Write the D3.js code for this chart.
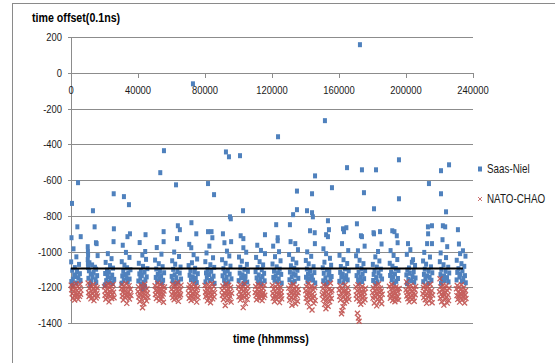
<!DOCTYPE html>
<html>
<head>
<meta charset="utf-8">
<script src="https://cdn.jsdelivr.net/npm/d3@7"></script>
<style>
  body { margin: 0; background: #fff; }
  svg { display: block; }
  text { font-family: "Liberation Sans", Arial, sans-serif; }
</style>
</head>
<body>
<svg id="chart" width="555" height="363"></svg>
<script>
// y ticks and x ticks
const yTicks = [200, 0, -200, -400, -600, -800, -1000, -1200, -1400];
const xTicks = [0, 40000, 80000, 120000, 160000, 200000, 240000];

// Saas-Niel, one list per hour: [mmss, offset]
const saasNiel = [
  [[600,-731],[4200,-615],[3800,-862],[300,-923],[5800,-917],[1500,-985],[3200,-1030],[100,-1058],[4800,-1072],[2300,-1090],[700,-1105],[3600,-1112],[5300,-1124],[1900,-1131],[2800,-1140],[4400,-1148],[1100,-1155],[5700,-1162],[200,-1168],[3300,-1176],[900,-1184]],
  [[3100,-772],[4100,-862],[4900,-951],[5300,-956],[5900,-1023],[0,-973],[100,-1000],[200,-1020],[0,-1045],[100,-1068],[200,-1090],[1000,-1063],[2600,-1075],[4300,-1088],[5000,-1099],[700,-1108],[3500,-1117],[1800,-1126],[5600,-1135],[2900,-1143],[400,-1150],[4700,-1158],[2100,-1166],[5100,-1174],[1400,-1183]],
  [[5500,-677],[5600,-873],[5400,-945],[2000,-1012],[4200,-1040],[700,-1061],[3300,-1079],[5100,-1093],[1500,-1104],[2600,-1115],[400,-1123],[4600,-1132],[1900,-1140],[3700,-1149],[5800,-1156],[1000,-1163],[2900,-1171],[4900,-1179],[200,-1187]],
  [[1600,-693],[4600,-738],[5200,-901],[3700,-917],[900,-965],[2800,-1005],[4900,-1033],[300,-1057],[1900,-1076],[3500,-1091],[5500,-1102],[1200,-1111],[4200,-1120],[2400,-1129],[600,-1137],[3100,-1146],[5000,-1154],[1500,-1161],[3900,-1169],[200,-1177]],
  [[4500,-906],[4300,-1000],[1000,-950],[2600,-1020],[4800,-1044],[500,-1066],[3000,-1083],[5600,-1096],[1700,-1107],[3900,-1116],[800,-1125],[2300,-1134],[5200,-1142],[1400,-1150],[4400,-1158],[200,-1165],[3300,-1173],[2000,-1181],[4200,-1195],[2800,-1210]],
  [[3300,-559],[5500,-436],[5300,-889],[5300,-945],[1200,-978],[4000,-1015],[200,-1048],[2400,-1068],[4700,-1085],[900,-1098],[3100,-1110],[5600,-1119],[1800,-1128],[3800,-1136],[600,-1145],[2700,-1153],[5000,-1161],[1500,-1168],[4300,-1176]],
  [[2700,-627],[3800,-856],[5000,-878],[3300,-928],[1600,-1003],[4500,-1028],[400,-1052],[2200,-1071],[5400,-1087],[1000,-1100],[3500,-1112],[4900,-1121],[1900,-1130],[100,-1139],[2900,-1147],[5700,-1154],[700,-1162],[4100,-1170],[2400,-1178]],
  [[2800,-62],[1900,-839],[4800,-901],[1800,-979],[600,-960],[3200,-1018],[5300,-1042],[2200,-1063],[200,-1079],[4100,-1094],[1300,-1106],[3600,-1115],[5700,-1124],[800,-1133],[2700,-1142],[4500,-1150],[1600,-1158],[3900,-1166],[5100,-1174]],
  [[1800,-620],[5400,-682],[1800,-889],[3900,-889],[4400,-923],[2600,-970],[900,-1008],[4800,-1035],[200,-1057],[3200,-1074],[5500,-1089],[1500,-1101],[3700,-1111],[600,-1120],[2400,-1129],[5100,-1138],[1100,-1146],[4200,-1154],[2900,-1162],[300,-1170],[5700,-1178]],
  [[2500,-443],[4300,-470],[4900,-806],[5400,-817],[700,-901],[1600,-951],[5600,-945],[3100,-998],[4500,-1025],[200,-1046],[2300,-1066],[5200,-1082],[1000,-1096],[3600,-1108],[1800,-1118],[4700,-1127],[500,-1136],[2900,-1145],[5800,-1153],[1400,-1161],[3900,-1170],[2100,-1180]],
  [[900,-464],[2700,-772],[1300,-912],[2900,-928],[2900,-979],[4600,-1004],[300,-1031],[2000,-1054],[5000,-1072],[1100,-1088],[3500,-1100],[5600,-1111],[700,-1121],[2400,-1130],[4200,-1139],[1600,-1147],[3800,-1155],[100,-1163],[5200,-1171],[3000,-1179]],
  [[5800,-906],[5800,-1012],[1200,-965],[3400,-994],[500,-1033],[2600,-1057],[4700,-1075],[1400,-1090],[3900,-1102],[200,-1113],[5300,-1122],[2100,-1131],[4300,-1140],[800,-1148],[3000,-1156],[5600,-1164],[1700,-1172],[3600,-1180]],
  [[3600,-358],[2500,-850],[3400,-923],[3400,-940],[700,-970],[4200,-1001],[1800,-1029],[5100,-1052],[300,-1070],[2800,-1086],[4600,-1099],[1200,-1110],[3600,-1119],[5500,-1128],[2200,-1137],[800,-1145],[4000,-1153],[1500,-1161],[3100,-1169],[5800,-1177]],
  [[4900,-662],[4900,-766],[700,-850],[2600,-794],[1100,-945],[3900,-956],[5500,-990],[200,-1017],[2400,-1043],[4500,-1064],[1300,-1080],[3300,-1094],[5200,-1105],[700,-1115],[2900,-1124],[4100,-1133],[1800,-1142],[5700,-1150],[400,-1158],[3600,-1166],[2100,-1174]],
  [[5700,-577],[3900,-677],[900,-772],[3900,-783],[4400,-806],[2700,-884],[5500,-895],[5600,-956],[1000,-1002],[3400,-1027],[200,-1050],[1900,-1069],[4800,-1085],[800,-1098],[2700,-1109],[5300,-1118],[1500,-1127],[3800,-1136],[300,-1144],[2300,-1152],[4500,-1160],[1200,-1168],[5800,-1176]],
  [[1600,-268],[5800,-643],[3400,-828],[2300,-906],[3400,-917],[2300,-1012],[4000,-878],[700,-985],[4600,-1038],[1300,-1060],[5300,-1077],[300,-1091],[2800,-1103],[4200,-1113],[900,-1122],[3700,-1131],[5600,-1140],[1900,-1148],[4900,-1156],[600,-1164],[3100,-1172],[2000,-1180]],
  [[4800,-531],[2400,-873],[4400,-867],[1800,-956],[3000,-889],[5500,-995],[300,-1021],[2700,-1046],[4900,-1067],[1100,-1084],[3600,-1097],[5800,-1108],[700,-1117],[2200,-1126],[4300,-1135],[1400,-1143],[3300,-1151],[5200,-1159],[200,-1167],[2600,-1175]],
  [[2500,157],[3700,-543],[4900,-671],[700,-845],[3100,-912],[1300,-996],[3700,-917],[5300,-970],[200,-1024],[2300,-1049],[4600,-1068],[900,-1083],[3400,-1096],[5600,-1107],[1700,-1117],[4100,-1126],[500,-1135],[2800,-1144],[5000,-1152],[1400,-1160],[3800,-1168],[2000,-1177]],
  [[2100,-543],[900,-761],[900,-901],[4500,-889],[3300,-1000],[600,-895],[5400,-958],[1700,-1030],[4100,-1053],[200,-1072],[2600,-1087],[5000,-1099],[1200,-1110],[3600,-1119],[700,-1128],[4700,-1137],[2200,-1146],[5700,-1154],[400,-1162],[3000,-1170],[1800,-1178]],
  [[5800,-487],[5800,-705],[1800,-884],[4500,-912],[5000,-951],[3100,-889],[800,-995],[2600,-1022],[4800,-1045],[300,-1066],[1900,-1082],[3900,-1095],[5500,-1106],[1100,-1116],[3400,-1125],[500,-1134],[2400,-1143],[5200,-1151],[1500,-1159],[4200,-1167],[2900,-1175]],
  [[1200,-956],[4200,-1046],[2600,-990],[500,-1016],[3500,-1060],[5400,-1078],[1800,-1092],[800,-1104],[4600,-1113],[2300,-1122],[200,-1131],[3900,-1140],[5700,-1148],[1400,-1156],[3100,-1164],[4900,-1172],[600,-1180]],
  [[3700,-620],[5500,-856],[3200,-901],[2600,-956],[5500,-956],[3100,-862],[900,-1005],[4300,-1031],[200,-1053],[2000,-1071],[4900,-1086],[1200,-1099],[3500,-1110],[5700,-1119],[700,-1128],[2700,-1137],[4100,-1145],[1600,-1153],[5200,-1161],[300,-1169],[3300,-1177]],
  [[5700,-515],[900,-548],[900,-677],[3900,-778],[2000,-856],[1800,-934],[4600,-973],[3400,-862],[700,-1008],[3900,-1034],[200,-1057],[2400,-1074],[5200,-1088],[1100,-1100],[3600,-1111],[5800,-1120],[600,-1129],[2700,-1138],[4500,-1146],[1500,-1154],[3200,-1162],[5400,-1170],[900,-1178]],
  [[1000,-878],[4000,-996],[2300,-1012],[1600,-958],[5500,-1026],[300,-1049],[3100,-1068],[4800,-1083],[1300,-1096],[3700,-1107],[600,-1117],[2500,-1126],[5200,-1135],[1900,-1143],[4200,-1151],[200,-1159],[3400,-1167],[5700,-1175]]
];

// NATO-CHAO, one list per hour: [mmss, offset]
const natoChao = [
  [[100,-1188],[400,-1214],[700,-1236],[900,-1201],[1200,-1262],[1500,-1225],[1700,-1190],[2000,-1248],[2200,-1271],[2500,-1209],[2800,-1233],[3000,-1180],[3300,-1255],[3500,-1218],[3800,-1242],[4100,-1196],[4300,-1268],[4600,-1228],[4900,-1205],[5100,-1251],[5400,-1183],[5700,-1239],[5900,-1216]],
  [[200,-1176],[500,-1230],[800,-1252],[1000,-1206],[1300,-1244],[1600,-1192],[1900,-1265],[2100,-1221],[2400,-1199],[2700,-1258],[2900,-1238],[3200,-1185],[3400,-1212],[3700,-1275],[4000,-1227],[4200,-1247],[4500,-1194],[4800,-1219],[5000,-1260],[5300,-1235],[5600,-1203],[5800,-1249]],
  [[0,-1197],[300,-1245],[600,-1220],[800,-1267],[1100,-1189],[1400,-1235],[1600,-1256],[1900,-1210],[2200,-1182],[2400,-1240],[2700,-1282],[3000,-1224],[3200,-1202],[3500,-1250],[3800,-1231],[4000,-1193],[4300,-1263],[4600,-1216],[4800,-1241],[5100,-1185],[5400,-1228],[5700,-1259]],
  [[100,-1207],[400,-1186],[600,-1249],[900,-1228],[1200,-1271],[1400,-1213],[1700,-1195],[2000,-1238],[2300,-1257],[2500,-1220],[2800,-1179],[3100,-1244],[3300,-1290],[3600,-1232],[3900,-1205],[4100,-1253],[4400,-1226],[4700,-1191],[4900,-1266],[5200,-1240],[5500,-1211],[5800,-1247]],
  [[0,-1224],[300,-1198],[500,-1255],[800,-1237],[1100,-1280],[1300,-1212],[1600,-1246],[1900,-1190],[2100,-1268],[2400,-1229],[2700,-1315],[2900,-1251],[3200,-1204],[3500,-1292],[3700,-1236],[4000,-1183],[4300,-1261],[4500,-1218],[4800,-1243],[5100,-1276],[5300,-1209],[5600,-1233],[5900,-1256]],
  [[200,-1192],[400,-1241],[700,-1217],[1000,-1263],[1200,-1200],[1500,-1232],[1800,-1178],[2000,-1254],[2300,-1224],[2600,-1275],[2800,-1208],[3100,-1245],[3400,-1186],[3600,-1229],[3900,-1266],[4200,-1213],[4400,-1250],[4700,-1195],[5000,-1238],[5200,-1284],[5500,-1221],[5800,-1199]],
  [[0,-1212],[300,-1239],[600,-1183],[800,-1258],[1100,-1226],[1400,-1203],[1600,-1270],[1900,-1244],[2200,-1190],[2500,-1230],[2700,-1261],[3000,-1207],[3300,-1248],[3500,-1175],[3800,-1222],[4100,-1279],[4300,-1236],[4600,-1197],[4900,-1253],[5100,-1215],[5400,-1242],[5700,-1188]],
  [[100,-1233],[400,-1204],[600,-1262],[900,-1187],[1200,-1246],[1500,-1220],[1700,-1274],[2000,-1199],[2300,-1237],[2500,-1255],[2800,-1211],[3100,-1181],[3400,-1241],[3600,-1268],[3900,-1226],[4200,-1196],[4400,-1250],[4700,-1214],[5000,-1283],[5300,-1235],[5500,-1203],[5800,-1258]],
  [[0,-1190],[300,-1227],[500,-1252],[800,-1209],[1100,-1243],[1400,-1276],[1600,-1218],[1900,-1184],[2200,-1238],[2400,-1262],[2700,-1201],[3000,-1231],[3300,-1287],[3500,-1248],[3800,-1212],[4100,-1179],[4400,-1240],[4600,-1265],[4900,-1223],[5200,-1196],[5400,-1254],[5700,-1230]],
  [[200,-1216],[400,-1245],[700,-1193],[1000,-1269],[1300,-1230],[1500,-1205],[1800,-1258],[2100,-1302],[2300,-1236],[2600,-1182],[2900,-1249],[3100,-1222],[3400,-1274],[3700,-1208],[4000,-1241],[4200,-1189],[4500,-1263],[4800,-1227],[5000,-1251],[5300,-1200],[5600,-1283],[5900,-1234]],
  [[100,-1200],[300,-1253],[600,-1226],[900,-1186],[1100,-1272],[1400,-1239],[1700,-1211],[2000,-1261],[2200,-1194],[2500,-1244],[2800,-1314],[3000,-1219],[3300,-1256],[3600,-1180],[3900,-1233],[4100,-1290],[4400,-1207],[4700,-1248],[4900,-1225],[5200,-1268],[5500,-1197],[5800,-1237]],
  [[0,-1229],[300,-1196],[500,-1247],[800,-1270],[1100,-1213],[1400,-1238],[1600,-1184],[1900,-1256],[2200,-1222],[2400,-1202],[2700,-1264],[3000,-1235],[3300,-1191],[3500,-1251],[3800,-1217],[4100,-1275],[4300,-1241],[4600,-1206],[4900,-1229],[5100,-1258],[5400,-1188],[5700,-1245]],
  [[200,-1188],[500,-1234],[700,-1261],[1000,-1210],[1300,-1247],[1500,-1280],[1800,-1223],[2100,-1195],[2400,-1252],[2600,-1231],[2900,-1269],[3200,-1206],[3400,-1240],[3700,-1183],[4000,-1258],[4200,-1219],[4500,-1286],[4800,-1236],[5000,-1201],[5300,-1249],[5600,-1227],[5800,-1265]],
  [[0,-1205],[300,-1248],[600,-1273],[800,-1226],[1100,-1190],[1400,-1257],[1700,-1232],[1900,-1301],[2200,-1214],[2500,-1244],[2800,-1185],[3000,-1266],[3300,-1237],[3600,-1209],[3800,-1254],[4100,-1292],[4400,-1223],[4700,-1197],[4900,-1246],[5200,-1278],[5500,-1231],[5700,-1212]],
  [[100,-1220],[400,-1262],[600,-1196],[900,-1241],[1200,-1284],[1500,-1229],[1700,-1180],[2000,-1255],[2300,-1310],[2500,-1233],[2800,-1207],[3100,-1270],[3400,-1246],[3600,-1192],[3900,-1327],[4200,-1238],[4400,-1263],[4700,-1215],[5000,-1290],[5200,-1250],[5500,-1201],[5800,-1275]],
  [[0,-1242],[300,-1209],[600,-1268],[800,-1187],[1100,-1235],[1400,-1296],[1600,-1253],[1900,-1218],[2200,-1320],[2400,-1274],[2700,-1228],[3000,-1194],[3300,-1259],[3500,-1306],[3800,-1239],[4100,-1211],[4400,-1281],[4600,-1248],[4900,-1178],[5200,-1226],[5400,-1263],[5700,-1217]],
  [[100,-1215],[400,-1250],[700,-1192],[900,-1271],[1200,-1233],[1500,-1348],[1800,-1331],[2000,-1207],[2400,-1309],[2600,-1258],[2900,-1224],[3200,-1288],[3400,-1240],[3700,-1186],[4000,-1264],[4300,-1218],[4500,-1279],[4800,-1236],[5100,-1202],[5300,-1254],[5600,-1229],[5900,-1268]],
  [[1000,-1345],[1600,-1372],[2000,-1390],[100,-1198],[300,-1243],[600,-1266],[900,-1220],[1300,-1186],[1500,-1254],[1800,-1231],[2200,-1277],[2500,-1209],[2800,-1246],[3000,-1295],[3300,-1225],[3600,-1261],[3900,-1194],[4100,-1238],[4400,-1283],[4700,-1214],[5000,-1252],[5200,-1229],[5500,-1270],[5800,-1205]],
  [[0,-1230],[300,-1261],[500,-1203],[800,-1247],[1100,-1288],[1400,-1218],[1700,-1190],[1900,-1255],[2200,-1236],[2500,-1304],[2800,-1212],[3000,-1269],[3300,-1242],[3600,-1182],[3900,-1227],[4100,-1280],[4400,-1250],[4700,-1206],[5000,-1263],[5200,-1221],[5500,-1292],[5800,-1239]],
  [[100,-1194],[400,-1238],[700,-1262],[900,-1212],[1200,-1250],[1500,-1185],[1800,-1229],[2000,-1274],[2300,-1244],[2600,-1203],[2900,-1258],[3100,-1220],[3400,-1281],[3700,-1235],[4000,-1198],[4200,-1266],[4500,-1247],[4800,-1211],[5000,-1253],[5300,-1226],[5600,-1272],[5900,-1207]],
  [[0,-1215],[300,-1170],[500,-1249],[800,-1228],[1100,-1264],[1400,-1197],[1600,-1240],[1900,-1282],[2200,-1210],[2500,-1233],[2700,-1256],[3000,-1188],[3300,-1224],[3600,-1269],[3800,-1245],[4100,-1205],[4400,-1259],[4700,-1232],[4900,-1278],[5200,-1213],[5500,-1242],[5800,-1195]],
  [[100,-1236],[400,-1201],[600,-1258],[900,-1223],[1200,-1189],[1500,-1270],[1700,-1245],[2000,-1211],[2300,-1290],[2600,-1238],[2800,-1196],[3100,-1254],[3400,-1227],[3700,-1276],[3900,-1208],[4200,-1249],[4500,-1183],[4800,-1232],[5000,-1265],[5300,-1219],[5600,-1287],[5900,-1243]],
  [[300,-1152],[0,-1225],[500,-1262],[700,-1198],[1000,-1240],[1300,-1281],[1500,-1214],[1800,-1252],[2100,-1187],[2400,-1233],[2600,-1300],[2900,-1246],[3200,-1208],[3500,-1267],[3700,-1228],[4000,-1192],[4300,-1255],[4600,-1289],[4800,-1219],[5100,-1243],[5400,-1275],[5700,-1204]],
  [[100,-1209],[400,-1247],[600,-1190],[900,-1268],[1200,-1228],[1400,-1252],[1700,-1199],[2000,-1283],[2300,-1236],[2500,-1215],[2800,-1260],[3100,-1186],[3400,-1241],[3600,-1272],[3900,-1222],[4200,-1256],[4400,-1203],[4700,-1234],[5000,-1288],[5200,-1245],[5500,-1218],[5800,-1263]]
];

// black average line
const trend = [[0, -1095], [234000, -1095]];

const seriesNames = ["Saas-Niel", "NATO-CHAO"];

const svg = d3.select("#chart");

const x = d3.scaleLinear().domain([0, 240000]).range([71, 473]);
const y = d3.scaleLinear().domain([-1400, 200]).range([323, 37]);

const toPoints = (byHour) => byHour.flatMap((list, h) => list.map(d => ({t: h * 10000 + d[0], v: d[1]})));
const blue = toPoints(saasNiel);
const red = toPoints(natoChao);

// narrow text: Arial metrics squeezed horizontally
const squeeze = 0.82;
function label(sel, xv, yv) {
  return sel.attr("transform", (d, i) => `translate(${xv(d, i)},${yv(d, i)}) scale(${squeeze},1)`);
}

// chart border
svg.append("rect")
  .attr("x", 12.5).attr("y", 3.5)
  .attr("width", 560).attr("height", 380)
  .attr("fill", "none").attr("stroke", "#8a8a8a");

// gridlines
svg.append("g")
  .selectAll("line")
  .data(yTicks)
  .join("line")
  .attr("x1", 68).attr("x2", 473)
  .attr("y1", d => Math.round(y(d)) + 0.5)
  .attr("y2", d => Math.round(y(d)) + 0.5)
  .attr("stroke", "#8c8c8c");

// y axis line
svg.append("line")
  .attr("x1", 71.5).attr("x2", 71.5)
  .attr("y1", Math.round(y(200))).attr("y2", Math.round(y(-1400)) + 1)
  .attr("stroke", "#8c8c8c");

// y labels
svg.append("g")
  .selectAll("text")
  .data(yTicks)
  .join("text")
  .call(label, () => 62, d => y(d) + 4)
  .attr("text-anchor", "end")
  .attr("font-size", 11.5)
  .attr("fill", "#1a1a1a")
  .text(d => d);

// x axis ticks on the zero line
svg.append("g")
  .selectAll("line")
  .data(xTicks)
  .join("line")
  .attr("x1", d => Math.round(x(d)) + 0.5)
  .attr("x2", d => Math.round(x(d)) + 0.5)
  .attr("y1", Math.round(y(0)))
  .attr("y2", Math.round(y(0)) + 5)
  .attr("stroke", "#8c8c8c");

svg.append("g")
  .selectAll("text")
  .data(xTicks)
  .join("text")
  .call(label, d => x(d), () => y(0) + 21)
  .attr("text-anchor", "middle")
  .attr("font-size", 11.5)
  .attr("fill", "#1a1a1a")
  .text(d => d);

// axis titles
svg.append("text")
  .attr("transform", `translate(32,22) scale(${squeeze},1)`)
  .attr("font-size", 13).attr("font-weight", "bold")
  .text("time offset(0.1ns)");

svg.append("text")
  .attr("transform", `translate(233,343) scale(${squeeze},1)`)
  .attr("font-size", 13).attr("font-weight", "bold")
  .text("time (hhmmss)");

// Saas-Niel squares
svg.append("g")
  .selectAll("rect")
  .data(blue)
  .join("rect")
  .attr("x", d => x(d.t) - 2)
  .attr("y", d => y(d.v) - 2.5)
  .attr("width", 4).attr("height", 5)
  .attr("fill", "#4F81BD");

// NATO-CHAO crosses
const xs = 2.5;
svg.append("g")
  .attr("stroke", "#C0504D")
  .attr("stroke-width", 1.3)
  .attr("opacity", 0.9)
  .selectAll("path")
  .data(red)
  .join("path")
  .attr("d", d => {
    const cx = x(d.t), cy = y(d.v);
    return `M${cx - xs},${cy - xs}L${cx + xs},${cy + xs}M${cx - xs},${cy + xs}L${cx + xs},${cy - xs}`;
  })
  .attr("fill", "none");

// average line
svg.append("path")
  .datum(trend)
  .attr("d", d3.line().x(d => x(d[0])).y(d => y(d[1])))
  .attr("stroke", "#000")
  .attr("stroke-width", 2)
  .attr("fill", "none");

// legend
const legend = svg.append("g");
legend.append("rect")
  .attr("x", 478).attr("y", 166.5)
  .attr("width", 4).attr("height", 5)
  .attr("fill", "#4F81BD");
legend.append("path")
  .attr("d", "M478,197L482,201M478,201L482,197")
  .attr("stroke", "#C0504D").attr("opacity", 0.8);
legend.selectAll("text")
  .data(seriesNames)
  .join("text")
  .call(label, () => 487, (d, i) => 173 + i * 30)
  .attr("font-size", 12)
  .attr("fill", "#1a1a1a")
  .text(d => d);
</script>
</body>
</html>
